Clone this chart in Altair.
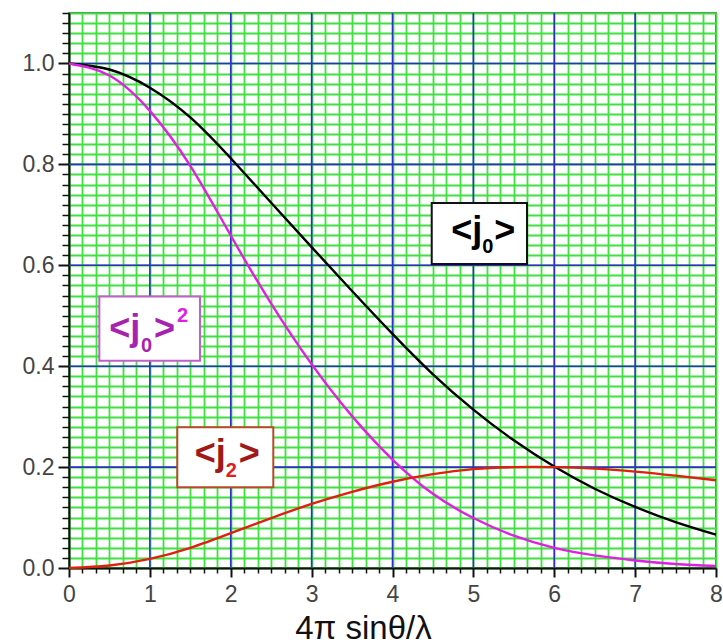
import altair as alt
import pandas as pd

# Magnetic form factors versus scattering vector 4π sinθ/λ
s = [0, 0.5, 1, 1.5, 2, 2.5, 3, 3.5, 4, 4.5, 5, 5.5, 6, 6.5, 7, 7.5, 8]
j0 = [1.0, 0.988, 0.952, 0.893, 0.812, 0.724, 0.636, 0.549, 0.464, 0.384,
      0.314, 0.253, 0.201, 0.157, 0.121, 0.091, 0.066]
j0_sq = [1.0, 0.976, 0.906, 0.797, 0.659, 0.524, 0.404, 0.301, 0.215, 0.147,
         0.099, 0.064, 0.040, 0.025, 0.015, 0.008, 0.004]
j2 = [0.0, 0.005, 0.018, 0.040, 0.069, 0.099, 0.127, 0.151, 0.171, 0.186,
      0.196, 0.200, 0.200, 0.197, 0.191, 0.183, 0.174]

series_names = ["j0", "j0sq", "j2"]
series_colors = ["#000000", "#e020e0", "#e0200f"]

x_ticks = [i / 6 for i in range(49)]
y_ticks = [round(i * 0.02, 2) for i in range(56)]
x_major = [1, 2, 3, 4, 5, 6, 7]
y_major = [0.2, 0.4, 0.6, 0.8, 1.0]

curves = pd.concat([
    pd.DataFrame({"s": s, "f": j0, "series": "j0"}),
    pd.DataFrame({"s": s, "f": j0_sq, "series": "j0sq"}),
    pd.DataFrame({"s": s, "f": j2, "series": "j2"}),
])

W, H = 647, 555
X = alt.Scale(domain=[0, 8], nice=False, zero=False)
Y = alt.Scale(domain=[0, 1.1], nice=False, zero=False)

is_int = "abs(datum.value - round(datum.value)) < 1e-6"
is_fifth = "abs(datum.value * 5 - round(datum.value * 5)) < 1e-6"

x_axis = alt.Axis(
    values=x_ticks, grid=True, gridColor="#3fe03f", gridWidth=1.8,
    labelExpr=f"{is_int} ? format(datum.value, 'd') : ''",
    tickSize={"condition": {"test": is_int, "value": 9}, "value": 5},
    tickWidth={"condition": {"test": is_int, "value": 2}, "value": 1.5},
    tickColor="#111", domainColor="#111", domainWidth=2,
    labelFont="Liberation Sans", labelFontSize=23, labelColor="#444",
    labelPadding=6, labelFlush=False, labelOverlap=False,
    title="4π sinθ/λ", titleFont="Liberation Sans", titleFontSize=33,
    titleFontWeight="normal", titleColor="#111",
    titleX=294, titleY=70, titleAlign="center", titleBaseline="alphabetic",
)
y_axis = alt.Axis(
    values=y_ticks, grid=True, gridColor="#3fe03f", gridWidth=1.8,
    labelExpr=f"{is_fifth} ? format(datum.value, '.1f') : ''",
    tickSize={"condition": {"test": is_fifth, "value": 11}, "value": 7},
    tickWidth={"condition": {"test": is_fifth, "value": 2}, "value": 1.5},
    tickColor="#111", domainColor="#111", domainWidth=2,
    labelFont="Liberation Sans", labelFontSize=23, labelColor="#444",
    labelPadding=4, labelFlush=False, labelOverlap=False, title=None,
)


def xenc(field="s"):
    return alt.X(f"{field}:Q", scale=X, axis=x_axis)


def yenc(field="f"):
    return alt.Y(f"{field}:Q", scale=Y, axis=y_axis)


# blue coarse grid
vrules = alt.Chart(pd.DataFrame({"s": x_major})).mark_rule(
    color="#2f2fc8", strokeWidth=1.6).encode(x=xenc())
hrules = alt.Chart(pd.DataFrame({"f": y_major})).mark_rule(
    color="#2f2fc8", strokeWidth=1.6).encode(y=yenc())

lines = alt.Chart(curves).mark_line(interpolate="natural", strokeWidth=2.4).encode(
    x=xenc(),
    y=yenc(),
    color=alt.Color("series:N", scale=alt.Scale(domain=series_names, range=series_colors),
                    legend=None),
    detail="series:N",
)

# annotation boxes (data coordinates) and their label pieces
boxes = pd.DataFrame({
    "x": [4.485, 0.375, 1.339],
    "x2": [5.663, 1.620, 2.526],
    "y": [0.7235, 0.538, 0.279],
    "y2": [0.6026, 0.411, 0.160],
    "stroke": ["#111111", "#c060c8", "#b84a28"],
})
box_layer = alt.Chart(boxes).mark_rect(fill="white", strokeWidth=2).encode(
    x=alt.X("x:Q", scale=X, axis=x_axis), x2="x2:Q",
    y=alt.Y("y:Q", scale=Y, axis=y_axis), y2="y2:Q",
    stroke=alt.Stroke("stroke:N", scale=None),
)

centers = {"j0": (5.074, 0.663), "j0sq": (1.0, 0.4745), "j2": (1.92, 0.2195)}
# (label, text, size, color, align, dx, dy)
pieces = [
    ("j0", "<j", 36, "#000000", "right", 3, 8.5),
    ("j0", "0", 20, "#000000", "left", 3, 19.5),
    ("j0", ">", 36, "#000000", "left", 15, 8.5),
    ("j0sq", "<j", 36, "#a822b0", "right", -9.7, 11.3),
    ("j0sq", "0", 20, "#a822b0", "left", -9, 23),
    ("j0sq", ">", 36, "#a822b0", "left", 4, 11.3),
    ("j0sq", "2", 20, "#e020e0", "left", 27, -7),
    ("j2", "<j", 36, "#a01818", "right", 1.4, 7.7),
    ("j2", "2", 20, "#e02020", "left", 1.4, 19.4),
    ("j2", ">", 36, "#a01818", "left", 14.5, 7.7),
]
text_layers = []
for key, txt, size, color, align, dx, dy in pieces:
    cx, cy = centers[key]
    text_layers.append(
        alt.Chart(pd.DataFrame({"s": [cx], "f": [cy], "t": [txt]})).mark_text(
            font="Liberation Sans", fontWeight="bold", fontSize=size, color=color,
            align=align, baseline="alphabetic", dx=dx, dy=dy,
        ).encode(x=xenc(), y=yenc(), text="t:N")
    )

chart = alt.layer(vrules, hrules, lines, box_layer, *text_layers).properties(
    width=W, height=H,
    autosize=alt.AutoSizeParams(type="none"),
    padding={"left": 69, "top": 13, "right": 7, "bottom": 76},
    background="white",
).configure_view(stroke="#333333", strokeWidth=1.5)

chart.save("out.html", embed_options={"renderer": "svg", "actions": False})
